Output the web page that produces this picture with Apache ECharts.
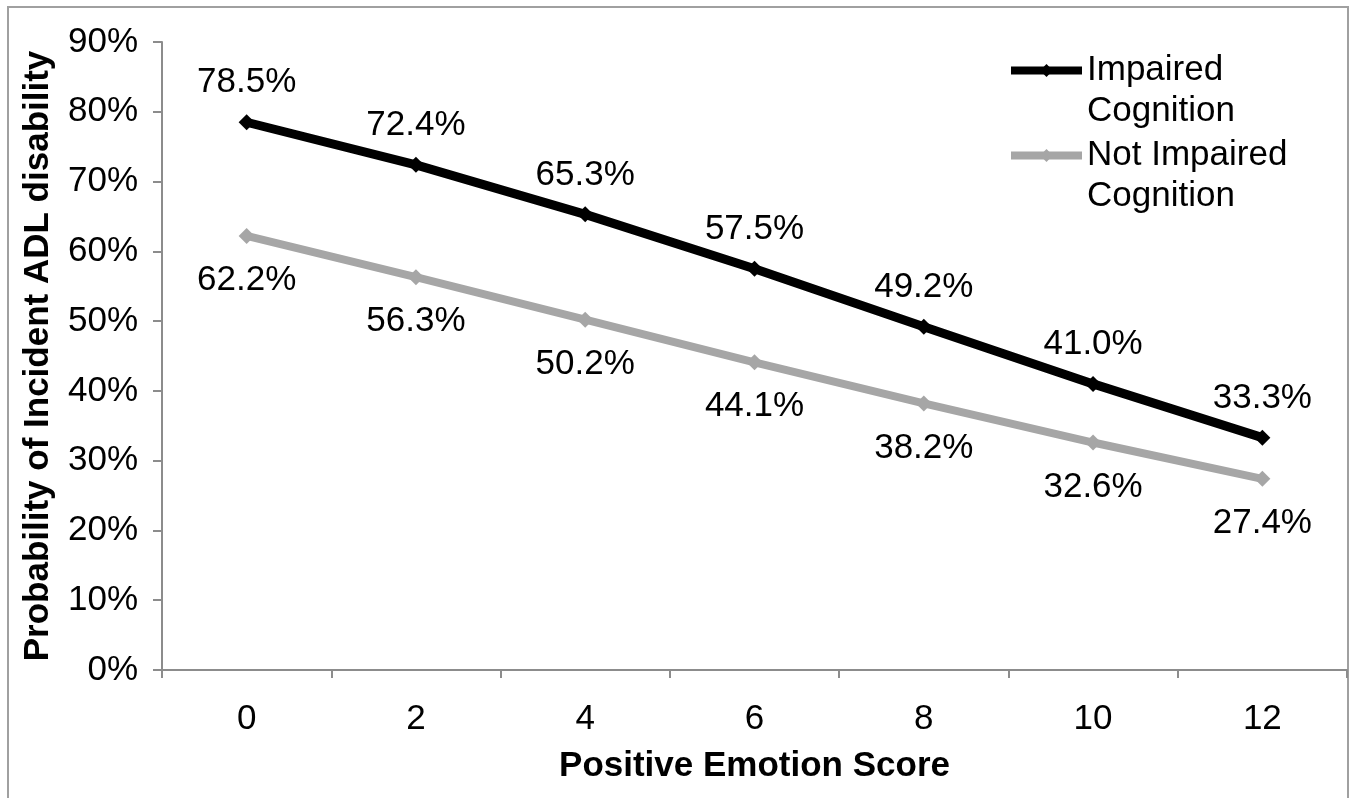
<!DOCTYPE html>
<html>

<head>
    <title>Positive Emotion Score and ADL disability</title>
    <meta charset="utf-8">
    <script src="https://cdn.jsdelivr.net/npm/echarts@6/dist/echarts.min.js"></script>
    <style>
        html, body { margin: 0; padding: 0; background: #fff; }
    </style>
</head>

<body>
    <!-- chart container, same size as the window -->
    <div id="main" style="width: 1355px;height:798px;"></div>

    <script type="text/javascript">
        // x categories (positive emotion score)
        var scores = ['0', '2', '4', '6', '8', '10', '12'];
        // y tick values, in percent
        var yTicks = [0, 10, 20, 30, 40, 50, 60, 70, 80, 90];
        // probabilities of incident ADL disability (%)
        var impaired = [78.5, 72.4, 65.3, 57.5, 49.2, 41.0, 33.3];
        var notImpaired = [62.2, 56.3, 50.2, 44.1, 38.2, 32.6, 27.4];

        var myChart = echarts.init(document.getElementById('main'));

        var font = 'Liberation Sans, Arial, sans-serif';
        var axisGray = '#8c8c8c';
        var fs = 35;

        // one legend per series; a blank first line keeps the icon on the "Impaired" line
        function legendAt(name, top) {
            return {
                orient: 'vertical',
                left: 1002,
                top: top,
                itemWidth: 71,
                itemHeight: 16,
                textStyle: {
                    fontFamily: font,
                    fontSize: fs,
                    lineHeight: 41,
                    color: '#000'
                },
                formatter: function (n) {
                    return '\u00a0\n' + n.replace(' Cognition', '\nCognition');
                },
                data: [{ name: name, lineStyle: { width: 8 } }]
            };
        }

        var option = {
            backgroundColor: '#fff',
            animation: false,
            textStyle: { fontFamily: font },
            // thin frame round the whole picture
            graphic: [{
                type: 'rect',
                shape: { x: 8, y: 7, width: 1340, height: 800 },
                style: { fill: 'none', stroke: '#a0a0a0', lineWidth: 2 }
            }],
            grid: {
                left: 162,
                right: 8,
                top: 42,
                bottom: 128
            },
            legend: [
                legendAt('Impaired Cognition', 4),
                legendAt('Not Impaired Cognition', 89)
            ],
            xAxis: {
                type: 'category',
                data: scores,
                boundaryGap: true,
                name: 'Positive Emotion Score',
                nameLocation: 'middle',
                nameGap: 79,
                nameTextStyle: {
                    fontFamily: font,
                    fontSize: fs,
                    fontWeight: 'bold',
                    color: '#000'
                },
                axisLine: { lineStyle: { color: axisGray, width: 2 } },
                axisTick: { show: true, length: 8, lineStyle: { color: axisGray, width: 2 } },
                axisLabel: {
                    fontFamily: font,
                    fontSize: fs,
                    color: '#000',
                    margin: 32
                },
                splitLine: { show: false }
            },
            yAxis: {
                type: 'value',
                min: yTicks[0],
                max: yTicks[yTicks.length - 1],
                interval: 10,
                name: 'Probability of Incident ADL disability',
                nameLocation: 'middle',
                nameGap: 106,
                nameTextStyle: {
                    fontFamily: font,
                    fontSize: fs,
                    fontWeight: 'bold',
                    color: '#000'
                },
                axisLine: { show: true, lineStyle: { color: axisGray, width: 2 } },
                axisTick: { show: true, length: 9, lineStyle: { color: axisGray, width: 2 } },
                axisLabel: {
                    fontFamily: font,
                    fontSize: fs,
                    color: '#000',
                    margin: 24,
                    formatter: '{value}%'
                },
                splitLine: { show: false }
            },
            series: [{
                name: 'Impaired Cognition',
                type: 'line',
                data: impaired,
                symbol: 'diamond',
                symbolSize: 16,
                color: '#000',
                lineStyle: { color: '#000', width: 9 },
                itemStyle: { color: '#000' },
                label: {
                    show: true,
                    position: 'top',
                    distance: 14,
                    fontFamily: font,
                    fontSize: fs,
                    color: '#000',
                    formatter: function (p) { return p.value.toFixed(1) + '%'; }
                }
            }, {
                name: 'Not Impaired Cognition',
                type: 'line',
                data: notImpaired,
                symbol: 'diamond',
                symbolSize: 16,
                color: '#a6a6a6',
                lineStyle: { color: '#a6a6a6', width: 8 },
                itemStyle: { color: '#a6a6a6' },
                label: {
                    show: true,
                    position: 'bottom',
                    distance: 19,
                    fontFamily: font,
                    fontSize: fs,
                    color: '#000',
                    formatter: function (p) { return p.value.toFixed(1) + '%'; }
                }
            }]
        };

        myChart.setOption(option);
    </script>
</body>

</html>
